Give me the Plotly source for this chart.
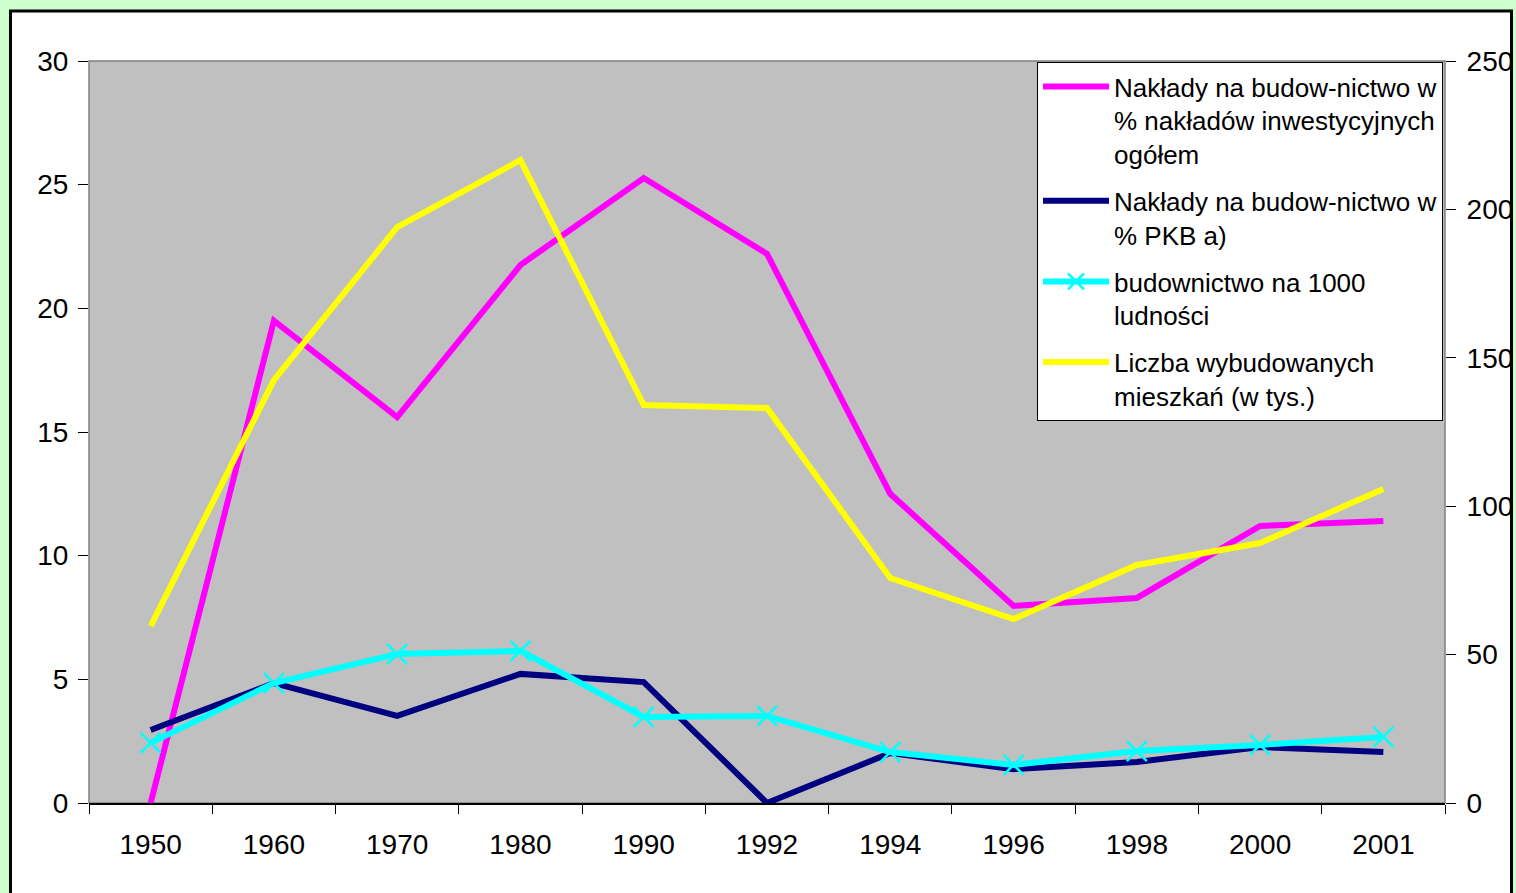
import plotly.graph_objects as go

years = ["1950", "1960", "1970", "1980", "1990", "1992", "1994", "1996", "1998", "2000", "2001"]
naklady_inwest = [0.0, 19.5, 15.6, 21.75, 25.27, 22.2, 12.5, 7.97, 8.29, 11.2, 11.4]
naklady_pkb = [2.95, 4.85, 3.52, 5.22, 4.89, 0.0, 2.02, 1.37, 1.66, 2.26, 2.06]
budownictwo_1000 = [2.43, 4.85, 6.02, 6.15, 3.48, 3.52, 2.06, 1.54, 2.1, 2.35, 2.67]
mieszkania_tys = [59.6, 142.5, 194.0, 216.6, 134.1, 133.1, 75.8, 62.0, 80.2, 87.6, 105.8]

names = [
    "Nakłady na budow-nictwo w<br>% nakładów inwestycyjnych<br>ogółem",
    "Nakłady na budow-nictwo w<br>% PKB a)",
    "budownictwo na 1000<br>ludności",
    "Liczba wybudowanych<br>mieszkań (w tys.)",
]

FONT = "Liberation Sans, Arial, sans-serif"

fig = go.Figure()
fig.add_trace(go.Scatter(x=years, y=naklady_inwest, name=names[0], mode="lines",
                         line=dict(color="#FF00FF", width=6), legendgroup="a"))
fig.add_trace(go.Scatter(x=years, y=naklady_pkb, name=names[1], mode="lines",
                         line=dict(color="#000080", width=6), legendgroup="b"))
fig.add_trace(go.Scatter(x=years, y=budownictwo_1000, name=names[2], mode="lines+markers",
                         line=dict(color="#00FFFF", width=6),
                         marker=dict(symbol="x-thin", size=20, line=dict(color="#00FFFF", width=2.5)),
                         legendgroup="c"))
fig.add_trace(go.Scatter(x=years, y=mieszkania_tys, name=names[3], mode="lines",
                         line=dict(color="#FFFF00", width=6), yaxis="y2", legendgroup="d"))

W, H = 1516, 893
L, R, T, B = 89, 71, 61, 90
pw, ph = W - L - R, H - T - B

def px_x(p):
    return (p - L) / pw

def px_y(p):
    return (H - B - p) / ph

fig.update_layout(
    width=W, height=H,
    margin=dict(l=L, r=R, t=T, b=B, autoexpand=False),
    paper_bgcolor="#CCFFCC",
    plot_bgcolor="rgba(0,0,0,0)",
    font=dict(family=FONT, size=27, color="black"),
    showlegend=True,
    legend=dict(
        x=px_x(1037), y=px_y(62), xanchor="left", yanchor="top",
        bgcolor="white", bordercolor="black", borderwidth=1,
        font=dict(family=FONT, size=26, color="black"),
        valign="top", tracegroupgap=10, traceorder="grouped",
        itemwidth=66,
    ),
    xaxis=dict(
        type="category", range=[-0.5, 10.5], tickson="boundaries",
        ticks="outside", ticklen=9, tickcolor="black", tickwidth=1,
        showline=True, linecolor="black", linewidth=1.5,
        showgrid=False, zeroline=False, automargin=False,
        tickfont=dict(family=FONT, size=28), ticklabelstandoff=16,
    ),
    xaxis3=dict(
        overlaying="x", anchor="y", type="linear", range=[-0.5, 10.5],
        tickvals=[i + 0.5 for i in range(-1, 11)],
        ticks="inside", ticklen=9, tickcolor="#555555", tickwidth=1.5,
        showticklabels=False, showgrid=False, zeroline=False, showline=False,
        automargin=False,
    ),
    yaxis=dict(
        range=[0, 30], dtick=5, ticks="outside", ticklen=10, tickcolor="black",
        showline=False, showgrid=False, zeroline=False, automargin=False,
        tickfont=dict(family=FONT, size=28), ticklabelstandoff=4,
    ),
    yaxis2=dict(
        range=[0, 250], dtick=50, overlaying="y", side="right",
        ticks="outside", ticklen=10, tickcolor="black",
        showline=False, showgrid=False, zeroline=False, automargin=False,
        tickfont=dict(family=FONT, size=28), ticklabelstandoff=5,
    ),
    shapes=[
        dict(type="rect", xref="paper", yref="paper", layer="below",
             x0=px_x(10.5), x1=px_x(1511.5), y0=px_y(905), y1=px_y(11),
             fillcolor="white", line=dict(color="black", width=3)),
        dict(type="rect", xref="paper", yref="paper", layer="below",
             x0=0, x1=1, y0=0, y1=1,
             fillcolor="#C0C0C0", line=dict(color="#808080", width=1.5)),
    ],
)

fig.write_html(
    "out.html",
    config={"displayModeBar": False},
    post_script="document.body.style.margin='0';document.body.style.background='#CCFFCC';document.body.style.overflow='hidden';",
)
